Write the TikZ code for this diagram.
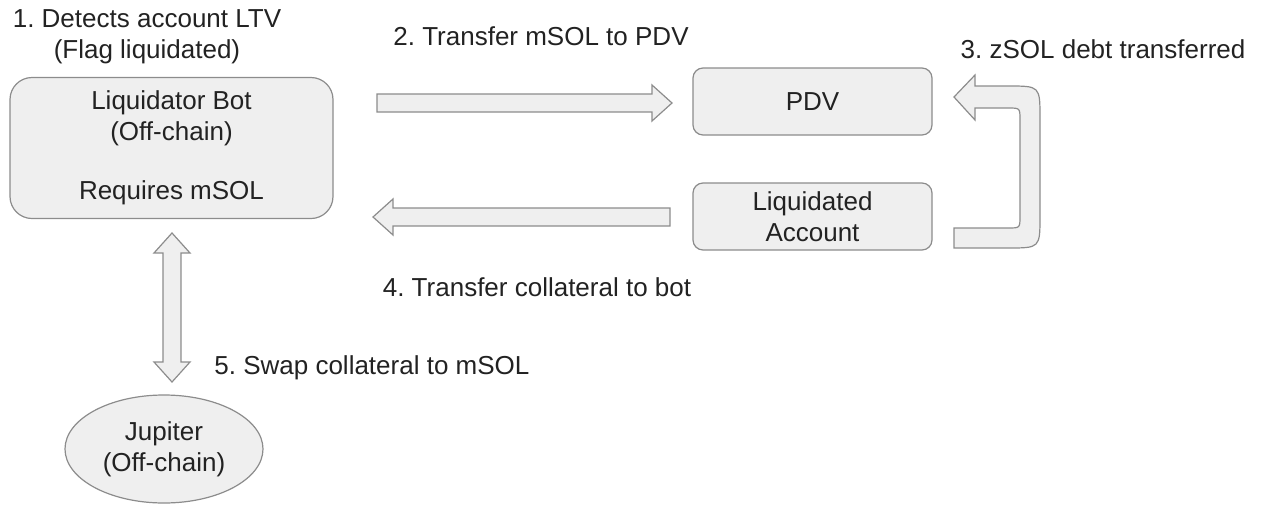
\documentclass[tikz,border=0pt]{standalone}
\usepackage{fontspec}
\setmainfont{Liberation Sans}
\usetikzlibrary{calc,shapes.geometric}
\frenchspacing

\definecolor{boxgray}{HTML}{EFEFEF}
\definecolor{linegray}{HTML}{8C8C8C}
\definecolor{textgray}{HTML}{222222}

\begin{document}
\begin{tikzpicture}[x=0.5pt, y=-0.5pt, font=\fontsize{13}{15.5}\selectfont, text=textgray, inner sep=0pt, align=center]
	\tikzset{box lines/.style={draw=linegray, fill=boxgray, line width=0.6pt}}
	\tikzset{fat arrow/.style={box lines, to path={
		($(\tikztostart)!4.5pt!90:(\tikztotarget)$)
		-- ($(\tikztotarget)!10.97pt!-24.2:(\tikztostart)$)
		-- ($(\tikztotarget)!13.45pt!-42:(\tikztostart)$)
		-- (\tikztotarget)
		-- ($(\tikztotarget)!13.45pt!42:(\tikztostart)$)
		-- ($(\tikztotarget)!10.97pt!24.2:(\tikztostart)$)
		-- ($(\tikztostart)!4.5pt!-90:(\tikztotarget)$) -- cycle}}}
	\tikzset{fat double arrow/.style={box lines, to path={
		(\tikztostart)
		-- ($(\tikztostart)!13.45pt!42:(\tikztotarget)$)
		-- ($(\tikztostart)!10.97pt!24.2:(\tikztotarget)$)
		-- ($(\tikztotarget)!10.97pt!-24.2:(\tikztostart)$)
		-- ($(\tikztotarget)!13.45pt!-42:(\tikztostart)$)
		-- (\tikztotarget)
		-- ($(\tikztotarget)!13.45pt!42:(\tikztostart)$)
		-- ($(\tikztotarget)!10.97pt!24.2:(\tikztostart)$)
		-- ($(\tikztostart)!10.97pt!-24.2:(\tikztotarget)$)
		-- ($(\tikztostart)!13.45pt!-42:(\tikztotarget)$) -- cycle}}}
	\useasboundingbox (0, 0) rectangle (1264, 504);

	% boxes
	\node[box lines, rounded corners=11pt, minimum width=161.5pt, minimum height=70.5pt]
		(bot) at (171.5, 148) {Liquidator Bot\\(Off-chain)\\[14pt]Requires mSOL};
	\node[box lines, rounded corners=5pt, minimum width=119.5pt, minimum height=33.5pt]
		(pdv) at (812.5, 101.5) {PDV};
	\node[box lines, rounded corners=5pt, minimum width=119.5pt, minimum height=33.5pt]
		(liq) at (812.5, 216.5) {Liquidated\\Account};
	\node[box lines, ellipse, minimum width=99pt, minimum height=54pt]
		(jup) at (164, 449) {Jupiter\\(Off-chain)};

	% step labels
	\node (step1) at (147, 37) {1. Detects account LTV\\(Flag liquidated)};
	\node (step2) at (541, 36) {2. Transfer mSOL to PDV};
	\node (step3) at (1103, 49) {3. zSOL debt transferred};
	\node (step4) at (537, 287) {4. Transfer collateral to bot};
	\node[anchor=west] (step5) at (214, 368) {5. Swap collateral to mSOL};

	% block arrows
	\coordinate (a2s) at (377, 103);
	\coordinate (a2e) at (672, 103);
	\coordinate (a4s) at (670, 217);
	\coordinate (a4e) at (373, 217);
	\coordinate (a5s) at (172, 233);
	\coordinate (a5e) at (172, 382);
	\draw[fat arrow] (a2s) to (a2e);
	\draw[fat arrow] (a4s) to (a4e);
	\draw[fat double arrow] (a5s) to (a5e);

	% bent arrow from the liquidated account up to the PDV
	\draw[box lines] (954, 97) -- (975, 75) -- (975, 86) -- (1008, 86)
		.. controls (1040, 86) .. (1040, 118) -- (1040, 216)
		.. controls (1040, 248) .. (1008, 248) -- (954, 248) -- (954, 228)
		-- (1008, 228) .. controls (1020, 228) .. (1020, 216) -- (1020, 120)
		.. controls (1020, 108) .. (1008, 108) -- (975, 108) -- (975, 120) -- cycle;
\end{tikzpicture}
\end{document}
